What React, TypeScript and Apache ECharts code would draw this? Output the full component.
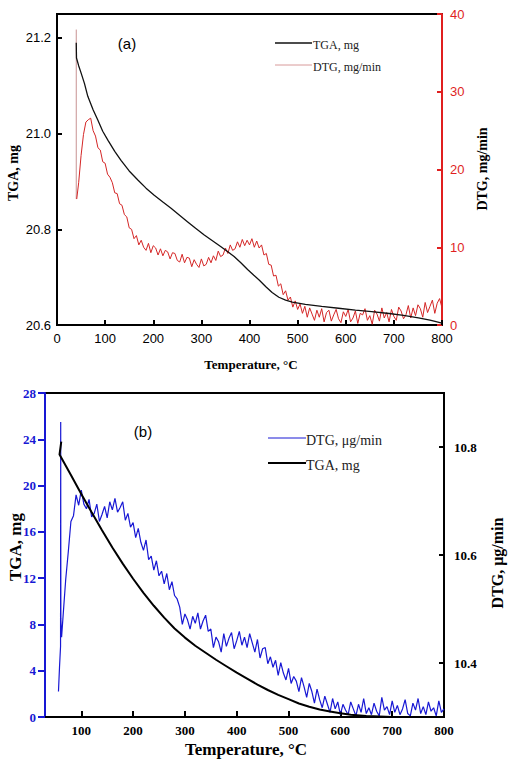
import { useEffect, useRef } from "react";
import * as echarts from "echarts";

// ---------- (a) data ----------
const TEMP_TICKS_A = [0, 100, 200, 300, 400, 500, 600, 700, 800];
const TGA_A_TICKS = [20.6, 20.8, 21.0, 21.2];
const DTG_A_TICKS = [0, 10, 20, 30, 40];

const TGA_A: [number, number][] = [
  [40, 21.19], [40.5, 21.158], [45, 21.142], [50, 21.127], [57, 21.105], [64, 21.078],
  [75, 21.05], [85, 21.028], [95, 21.005], [106, 20.986], [120, 20.963], [133, 20.944],
  [150, 20.922], [168, 20.903], [185, 20.886], [202, 20.871], [220, 20.857], [237, 20.844],
  [254, 20.83], [271, 20.816], [288, 20.802], [306, 20.788], [323, 20.776], [340, 20.764],
  [355, 20.753], [368, 20.743], [382, 20.73], [396, 20.716], [409, 20.704], [420, 20.694],
  [434, 20.68], [447, 20.668], [461, 20.658], [475, 20.652], [489, 20.648], [516, 20.643],
  [550, 20.639], [585, 20.635], [620, 20.631], [654, 20.628], [690, 20.624], [720, 20.62],
  [751, 20.615], [775, 20.61], [800, 20.604],
];

const DTG_A_SPIKE: [number, number][] = [[40, 38.0], [40, 16.2]];
const DTG_A_HEAD: [number, number][] = [[41, 16.2]];
const DTG_A_T0 = 45;
const DTG_A_STEP = 5;
const DTG_A_VALUES = [
  18.3, 21.8, 24.5, 26.1, 26.4, 26.6, 25.0, 24.3, 22.8, 22.5,
  21.0, 20.8, 19.4, 19.0, 18.3, 17.0, 16.9, 15.6, 15.4, 14.2,
  13.9, 12.5, 12.3, 11.1, 11.5, 10.3, 10.9, 10.0, 9.6, 10.5,
  9.3, 10.2, 9.9, 9.0, 9.8, 8.9, 9.6, 9.4, 8.5, 9.3,
  9.2, 8.3, 8.1, 9.1, 8.0, 8.7, 8.6, 7.5, 8.4, 7.8,
  7.4, 8.5, 7.6, 7.8, 8.7, 8.0, 8.9, 8.3, 9.5, 8.8,
  9.0, 9.9, 9.2, 10.3, 9.6, 9.8, 10.7, 10.0, 11.0, 10.2,
  10.9, 10.3, 11.1, 10.0, 10.8, 9.9, 10.3, 9.0, 9.2, 7.8,
  7.7, 6.3, 6.4, 5.0, 5.3, 3.9, 4.4, 3.2, 3.6, 2.3,
  3.1, 2.0, 2.7, 1.5, 2.4, 1.0, 2.2, 1.4, 0.6, 1.9,
  1.0, 2.1, 0.4, 1.6, 1.9, 0.5, 1.3, 2.0, 0.8, 0.3,
  1.7, 1.1, 2.0, 0.4, 0.9, 1.8, 0.2, 1.5, 1.3, 2.1,
  0.6, 1.2, 0.1, 1.9, 1.4, 0.5, 2.2, 0.9, 1.6, 0.4,
  2.0, 1.1, 0.6, 2.3, 1.8, 0.8, 1.3, 2.5, 0.9, 2.2,
  1.2, 2.6, 2.1, 1.0, 2.9, 1.6, 2.4, 3.2, 1.5, 2.8,
  3.4, 2.2,
];

// ---------- (b) data ----------
const TEMP_TICKS_B = [100, 200, 300, 400, 500, 600, 700, 800];
const TGA_B_TICKS = [10.4, 10.6, 10.8];
const DTG_B_TICKS = [0, 4, 8, 12, 16, 20, 24, 28];

const TGA_B: [number, number][] = [
  [61.4, 10.81], [58, 10.786], [80, 10.748], [100, 10.713], [120, 10.679], [140, 10.646],
  [160, 10.614], [180, 10.584], [200, 10.556], [220, 10.53], [240, 10.506], [260, 10.484],
  [280, 10.464], [300, 10.447], [320, 10.432], [340, 10.419], [360, 10.406], [380, 10.394],
  [400, 10.382], [420, 10.371], [440, 10.36], [460, 10.35], [480, 10.341], [500, 10.333],
  [520, 10.325], [540, 10.319], [560, 10.314], [580, 10.31], [600, 10.307], [620, 10.304],
  [650, 10.302], [700, 10.3], [800, 10.3],
];

const DTG_B_HEAD: [number, number][] = [
  [56, 2.2], [58, 4.3], [60, 6.1], [60.3, 25.5], [60.6, 8.5], [62, 6.9],
];
const DTG_B_T0 = 65;
const DTG_B_STEP = 5;
const DTG_B_VALUES = [
  8.8, 11.9, 14.3, 16.9, 17.4, 19.2, 18.3, 19.6, 18.4, 18.0,
  18.8, 17.3, 17.6, 18.4, 16.9, 17.5, 18.2, 17.2, 18.6, 17.9,
  18.9, 17.7, 18.1, 18.6, 17.0, 17.6, 16.4, 16.8, 15.5, 16.3,
  15.1, 14.4, 15.3, 13.6, 13.9, 12.7, 13.5, 12.2, 12.6, 11.5,
  12.4, 11.0, 11.7, 10.5, 10.2, 9.5, 8.0, 8.9, 8.4, 7.6,
  8.7, 8.1, 9.0, 7.6, 8.3, 8.8, 7.4, 7.6, 6.0, 6.9,
  6.5, 5.6, 7.2, 6.1, 6.8, 7.3, 5.9, 6.6, 7.4, 6.2,
  6.9, 6.0, 7.2, 6.4, 5.6, 6.7, 5.1, 5.9, 6.0, 4.6,
  5.2, 4.3, 4.9, 3.6, 4.7, 3.8, 3.2, 4.2, 2.9, 3.5,
  3.1, 2.2, 3.4, 2.6, 1.7, 2.9, 2.2, 1.2, 2.4, 1.5,
  0.8, 1.8, 1.1, 0.4, 1.6, 0.7, 1.3, 0.2, 1.1, 0.6,
  0.2, 1.3, 0.7, 0.1, 1.1, 0.4, 1.6, 0.3, 0.8, 0.2,
  1.2, 0.5, 0.1, 1.7, 0.6, 0.9, 0.2, 1.4, 0.4, 1.0,
  0.2, 0.7, 1.5, 0.3, 0.1, 1.2, 0.6, 1.6, 0.3, 0.9,
  0.2, 1.3, 0.5, 0.8, 0.1, 1.4, 0.4, 0.7,
];

const SERIF = "'Liberation Serif', 'Times New Roman', serif";
const SANS = "'Liberation Sans', Arial, sans-serif";
const RED = "#e01f1f";
const DTG_RED = "#d42626";
const BLUE = "#1818d4";

export default function App() {
  const ref = useRef<HTMLDivElement>(null);

  useEffect(() => {
    if (!ref.current) return;
    const chart = echarts.init(ref.current, undefined, { renderer: "svg" });

    const dtgA = [
      ...DTG_A_HEAD,
      ...DTG_A_VALUES.map((v, i) => [DTG_A_T0 + i * DTG_A_STEP, v]),
    ];
    const dtgB = [
      ...DTG_B_HEAD,
      ...DTG_B_VALUES.map((v, i) => [DTG_B_T0 + i * DTG_B_STEP, v]),
    ];

    const tickStyle = (color: string) => ({ color, width: 2 });

    chart.setOption({
      animation: false,
      backgroundColor: "#fff",
      grid: [
        { left: 57, top: 14, width: 385, height: 311, show: true, borderColor: "#000", borderWidth: 2, outerBoundsMode: "none", containLabel: false },
        { left: 45, top: 393, width: 399, height: 324, show: true, borderColor: "#000", borderWidth: 2, outerBoundsMode: "none", containLabel: false },
      ],
      xAxis: [
        {
          gridIndex: 0, type: "value", min: 0, max: 800,
          axisLine: { onZero: false, lineStyle: { color: "#000", width: 2 } },
          axisTick: { inside: true, length: 5, customValues: TEMP_TICKS_A, lineStyle: tickStyle("#000") },
          axisLabel: { customValues: TEMP_TICKS_A, fontFamily: SANS, fontSize: 13, color: "#000", margin: 7 },
          splitLine: { show: false },
        },
        {
          gridIndex: 1, type: "value", min: 30, max: 800,
          axisLine: { onZero: false, lineStyle: { color: "#000", width: 2 } },
          axisTick: { inside: true, length: 6, customValues: TEMP_TICKS_B, lineStyle: tickStyle("#000") },
          axisLabel: { customValues: TEMP_TICKS_B, fontFamily: SERIF, fontWeight: "bold", fontSize: 13, color: "#000", margin: 7 },
          splitLine: { show: false },
        },
      ],
      yAxis: [
        {
          gridIndex: 0, type: "value", min: 20.6, max: 21.25, position: "left",
          axisLine: { show: true, onZero: false, lineStyle: { color: "#000", width: 2 } },
          axisTick: { show: true, inside: true, length: 5, customValues: TGA_A_TICKS, lineStyle: tickStyle("#000") },
          axisLabel: { customValues: TGA_A_TICKS, formatter: (v: number) => v.toFixed(1), fontFamily: SANS, fontSize: 13, color: "#000", margin: 6 },
          splitLine: { show: false },
        },
        {
          gridIndex: 0, type: "value", min: 0, max: 40, position: "right",
          axisLine: { show: true, onZero: false, lineStyle: { color: RED, width: 2 } },
          axisTick: { show: true, inside: true, length: 5, customValues: DTG_A_TICKS, lineStyle: tickStyle(RED) },
          axisLabel: { customValues: DTG_A_TICKS, fontFamily: SANS, fontSize: 13, color: RED, margin: 8 },
          splitLine: { show: false },
        },
        {
          gridIndex: 1, type: "value", min: 0, max: 28, position: "left",
          axisLine: { show: true, onZero: false, lineStyle: { color: BLUE, width: 2 } },
          axisTick: { show: true, inside: false, length: 7, customValues: DTG_B_TICKS, lineStyle: tickStyle(BLUE) },
          axisLabel: { customValues: DTG_B_TICKS, fontFamily: SERIF, fontWeight: "bold", fontSize: 13, color: BLUE, margin: 9 },
          splitLine: { show: false },
        },
        {
          gridIndex: 1, type: "value", min: 10.3, max: 10.9, position: "right",
          axisLine: { show: true, onZero: false, lineStyle: { color: "#000", width: 2 } },
          axisTick: { show: true, inside: true, length: 5, customValues: TGA_B_TICKS, lineStyle: tickStyle("#000") },
          axisLabel: { customValues: TGA_B_TICKS, formatter: (v: number) => v.toFixed(1), fontFamily: SERIF, fontWeight: "bold", fontSize: 13, color: "#000", margin: 10 },
          splitLine: { show: false },
        },
      ],
      series: [
        { type: "line", xAxisIndex: 0, yAxisIndex: 1, data: DTG_A_SPIKE, symbol: "none", silent: true, lineStyle: { color: "#c79292", width: 1 } },
        { type: "line", xAxisIndex: 0, yAxisIndex: 1, data: dtgA, symbol: "none", silent: true, lineStyle: { color: DTG_RED, width: 1 } },
        { type: "line", xAxisIndex: 0, yAxisIndex: 0, data: TGA_A, symbol: "none", silent: true, lineStyle: { color: "#111", width: 1.3 } },
        { type: "line", xAxisIndex: 1, yAxisIndex: 2, data: dtgB, symbol: "none", silent: true, lineStyle: { color: BLUE, width: 1.2 } },
        { type: "line", xAxisIndex: 1, yAxisIndex: 3, data: TGA_B, symbol: "none", silent: true, lineStyle: { color: "#000", width: 2 } },
      ],
      graphic: [
        // panel labels
        { type: "text", x: 127, y: 43, style: { text: "(a)", fontFamily: SANS, fontSize: 15, fill: "#000", align: "center", verticalAlign: "middle" } },
        { type: "text", x: 143, y: 431, style: { text: "(b)", fontFamily: SANS, fontSize: 15, fill: "#000", align: "center", verticalAlign: "middle" } },
        // legend (a)
        { type: "line", shape: { x1: 275, y1: 43, x2: 312, y2: 43 }, style: { stroke: "#111", lineWidth: 1.3 } },
        { type: "text", x: 313, y: 45, style: { text: "TGA, mg", fontFamily: SERIF, fontSize: 12, fill: "#222", align: "left", verticalAlign: "middle" } },
        { type: "line", shape: { x1: 275, y1: 65, x2: 312, y2: 65 }, style: { stroke: "#d89a9a", lineWidth: 1 } },
        { type: "text", x: 313, y: 67, style: { text: "DTG, mg/min", fontFamily: SERIF, fontSize: 12, fill: "#222", align: "left", verticalAlign: "middle" } },
        // legend (b)
        { type: "line", shape: { x1: 268, y1: 438, x2: 306, y2: 438 }, style: { stroke: BLUE, lineWidth: 1 } },
        { type: "text", x: 306, y: 440, style: { text: "DTG, μg/min", fontFamily: SERIF, fontSize: 14, fill: "#222", align: "left", verticalAlign: "middle" } },
        { type: "line", shape: { x1: 268, y1: 463, x2: 306, y2: 463 }, style: { stroke: "#000", lineWidth: 2 } },
        { type: "text", x: 306, y: 465, style: { text: "TGA, mg", fontFamily: SERIF, fontSize: 14, fill: "#222", align: "left", verticalAlign: "middle" } },
        // axis titles (a)
        { type: "text", x: 251, y: 364, style: { text: "Temperature, °C", fontFamily: SERIF, fontWeight: "bold", fontSize: 13, fill: "#000", align: "center", verticalAlign: "middle" } },
        { type: "text", x: 13, y: 173, rotation: Math.PI / 2, style: { text: "TGA, mg", fontFamily: SERIF, fontWeight: "bold", fontSize: 14, fill: "#000", align: "center", verticalAlign: "middle" } },
        { type: "text", x: 482, y: 169, rotation: Math.PI / 2, style: { text: "DTG, mg/min", fontFamily: SERIF, fontWeight: "bold", fontSize: 14, fill: "#000", align: "center", verticalAlign: "middle" } },
        // axis titles (b)
        { type: "text", x: 246, y: 749, style: { text: "Temperature, °C", fontFamily: SERIF, fontWeight: "bold", fontSize: 17, fill: "#000", align: "center", verticalAlign: "middle" } },
        { type: "text", x: 15, y: 547, rotation: Math.PI / 2, style: { text: "TGA, mg", fontFamily: SERIF, fontWeight: "bold", fontSize: 17, fill: "#000", align: "center", verticalAlign: "middle" } },
        { type: "text", x: 497, y: 563, rotation: Math.PI / 2, style: { text: "DTG, μg/min", fontFamily: SERIF, fontWeight: "bold", fontSize: 16, fill: "#000", align: "center", verticalAlign: "middle" } },
      ],
    });

    return () => chart.dispose();
  }, []);

  return (
    <div
      ref={ref}
      style={{ position: "absolute", left: 0, top: 0, width: 510, height: 771, background: "#fff" }}
    />
  );
}
